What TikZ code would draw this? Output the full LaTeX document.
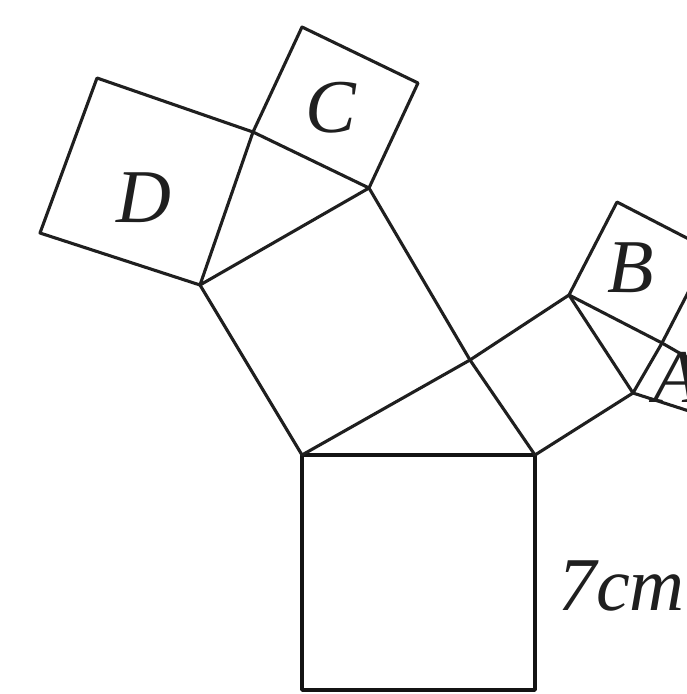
\documentclass[tikz,border=0pt]{standalone}
\usepackage{fontspec}
\setmainfont{Liberation Serif}
\usetikzlibrary{calc}
\begin{document}
\begin{tikzpicture}[x=1pt,y=-1pt,line join=round,line cap=round]
\tikzset{
  sq/.style={draw=black!88,line width=3.1pt},
  mainsq/.style={draw=black!92,line width=3.8pt},
  lbl/.style={font=\fontsize{76}{80}\selectfont\itshape,inner sep=0pt,text=black!88}
}
\useasboundingbox (0,0) rectangle (687,694);
\clip (0,0) rectangle (687,694);
% main square
\coordinate (P1) at (302,455);
\coordinate (P2) at (535,455);
\coordinate (P3) at (535,690);
\coordinate (P4) at (302,690);
% right-angle vertex above main square
\coordinate (R) at (470,360);
% left square
\coordinate (Q1) at (200,285);
\coordinate (Q2) at (369,188);
% right square
\coordinate (S1) at (569,295);
\coordinate (S2) at (633,393);
% square D and C
\coordinate (T) at (253,132);
\coordinate (D1) at (97,78);
\coordinate (D2) at (40,233);
\coordinate (C1) at (302,27);
\coordinate (C2) at (418,83);
% squares B and A
\coordinate (U) at (662,343);
\coordinate (B1) at (617,202);
\coordinate (B2) at ($(B1)+(U)-(S1)$);
\coordinate (A1) at ($(U)+(50,28.7)$);
\coordinate (A2) at ($(S2)+(56,18)$);

\draw[mainsq] (P1) -- (P2) -- (P3) -- (P4) -- cycle;
\draw[sq] (P1) -- (R) -- (Q2) -- (Q1) -- cycle;
\draw[sq] (R) -- (P2) -- (S2) -- (S1) -- cycle;
\draw[sq] (Q1) -- (T) -- (D1) -- (D2) -- cycle;
\draw[sq] (T) -- (C1) -- (C2) -- (Q2) -- cycle;
\draw[sq] (S1) -- (U) -- (B2) -- (B1) -- cycle;
\draw[sq] (U) -- (S2) -- (A2) -- (A1) -- cycle;

\node[lbl] (lC) at (331,108) {C};
\node[lbl] (lD) at (144,198) {D};
\node[lbl] (lB) at (631,268) {B};
\node[lbl] (lA) at (677,377) {A};
\node[lbl,anchor=base west] (l7) at (558,610) {7cm};
\end{tikzpicture}
\end{document}
